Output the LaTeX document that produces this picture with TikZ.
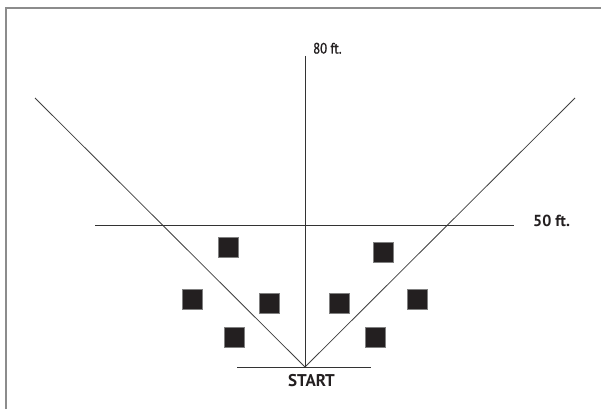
\documentclass[tikz,border=0pt]{standalone}
\usepackage{fontspec}
\setmainfont{PT Sans}
\newfontfamily\condfont[FakeStretch=0.85,FakeBold=1.2]{PT Sans}
\definecolor{inkblack}{HTML}{231F20}
\begin{document}
\begin{tikzpicture}[x=1pt,y=-1pt,
  frameline/.style={draw=black!45,line width=1.3pt},
  guide/.style={draw=black!80,line width=0.9pt},
  cone/.style={draw=black!75,line width=0.8pt},
  block/.style={fill=inkblack,draw=black!50,line width=0.4pt,minimum size=20pt,inner sep=0pt},
  lbl/.style={inner sep=0pt,anchor=base west,text=inkblack}]
\useasboundingbox (0,0) rectangle (601,409);
\fill[white] (0,0) rectangle (601,409);
% frame (top and left)
\coordinate (fbl) at (6,409);
\coordinate (ftl) at (6,8);
\coordinate (ftr) at (601,8);
\draw[frameline] (fbl) -- (ftl) -- (ftr);
% key points
\coordinate (apex) at (305,367);
\coordinate (vtop) at (305,56);
\coordinate (ltop) at (35,98);
\coordinate (rtop) at (575,98);
\coordinate (hl) at (95,225);
\coordinate (hr) at (514,225);
\coordinate (sl) at (237,367);
\coordinate (sr) at (371,367);
% lines
\draw[cone] (ltop) -- (apex) -- (rtop);
\draw[guide] (vtop) -- (apex);
\draw[guide] (hl) -- (hr);
\draw[guide] (sl) -- (sr);
% labels
\node[lbl,font=\condfont\fontsize{15}{15}\selectfont] (l80) at (313,53.5) {80 ft.};
\node[lbl,font=\bfseries\fontsize{16}{16}\selectfont] (l50) at (533,226.5) {50 ft.};
\node[lbl,font=\bfseries\fontsize{17}{17}\selectfont] (lstart) at (288,386.5) {START};
% squares
\node[block] (a1) at (228,247) {};
\node[block] (a2) at (192,299) {};
\node[block] (a3) at (269,303) {};
\node[block] (a4) at (234,337) {};
\node[block] (b1) at (383,252) {};
\node[block] (b2) at (339,303) {};
\node[block] (b3) at (417,299) {};
\node[block] (b4) at (375,337) {};
\end{tikzpicture}
\end{document}
